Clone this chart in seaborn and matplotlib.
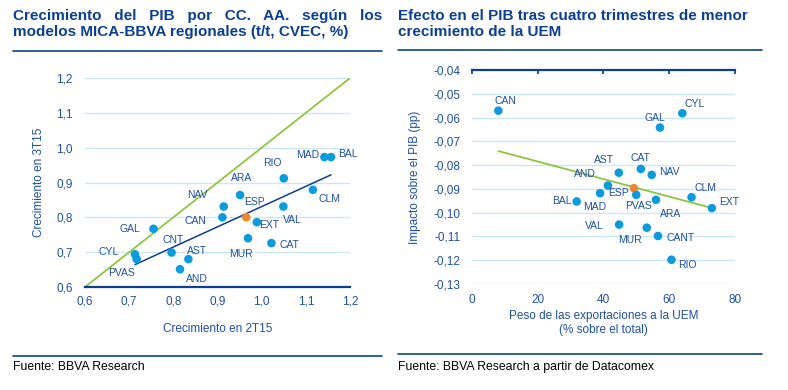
import numpy as np
import pandas as pd
import matplotlib
matplotlib.use("Agg")
import matplotlib.pyplot as plt
import seaborn as sns
from matplotlib.lines import Line2D

# --- data: left chart (growth 2T15 vs 3T15) ---
left_regions = ["GAL", "CYL", "PVAS", "CNT", "AST", "AND", "CAN", "NAV", "ARA", "ESP",
                "EXT", "MUR", "CAT", "VAL", "RIO", "CLM", "MAD", "BAL"]
left_2t15 = [0.755, 0.713, 0.717, 0.796, 0.834, 0.815, 0.911, 0.914, 0.951, 0.965,
             0.989, 0.969, 1.022, 1.049, 1.050, 1.116, 1.142, 1.157]
left_3t15 = [0.767, 0.694, 0.680, 0.699, 0.680, 0.651, 0.800, 0.831, 0.864, 0.800,
             0.786, 0.740, 0.726, 0.831, 0.912, 0.879, 0.973, 0.973]

# --- data: right chart (exports share to EMU vs GDP impact) ---
right_regions = ["CAN", "BAL", "CYL", "GAL", "AST", "CAT", "NAV", "AND", "ESP", "MAD",
                 "PVAS", "ARA", "CLM", "EXT", "VAL", "MUR", "CANT", "RIO"]
right_share = [8.1, 31.9, 64.0, 57.2, 44.7, 51.4, 54.7, 41.4, 49.3, 39.0,
               50.0, 56.0, 66.8, 73.0, 44.8, 53.2, 56.6, 60.7]
right_impact = [-0.0571, -0.0953, -0.0582, -0.0642, -0.0832, -0.0816, -0.0841, -0.0886,
                -0.0897, -0.0918, -0.0925, -0.0946, -0.0935, -0.0981, -0.1050, -0.1063,
                -0.1098, -0.1198]

left_ticks = [0.6, 0.7, 0.8, 0.9, 1.0, 1.1, 1.2]
right_yticks = [-0.13, -0.12, -0.11, -0.10, -0.09, -0.08, -0.07, -0.06, -0.05, -0.04]
right_xticks = [0, 20, 40, 60, 80]

# label offsets in pixels (dx, dy)
left_offsets = {"GAL": (-24, 0), "CYL": (-26, 2), "PVAS": (-15, -14), "CNT": (2, 13),
                "AST": (9, 8), "AND": (17, -10), "CAN": (-27, -4), "NAV": (-26, 12),
                "ARA": (2, 17), "ESP": (8, 15), "EXT": (12, -3), "MUR": (-7, -16),
                "CAT": (18, -2), "VAL": (9, -13), "RIO": (-11, 15), "CLM": (17, -9),
                "MAD": (-17, 2), "BAL": (17, 3)}
right_offsets = {"CAN": (7, 10), "BAL": (-15, 0), "CYL": (12, 9), "GAL": (-5, 10),
                 "AST": (-15, 13), "CAT": (0, 11), "NAV": (18, 3), "AND": (-23, 12),
                 "ESP": (-15, -5), "MAD": (-5, -14), "PVAS": (2, -11), "ARA": (15, -14),
                 "CLM": (14, 9), "EXT": (17, 6), "VAL": (-25, -1), "MUR": (-17, -12),
                 "CANT": (23, -2), "RIO": (16, -5)}

dot_blue = "#0A9BDD"
dot_orange = "#F08A2C"
navy = "#0B3F91"
text_blue = "#1F4FA0"
grid_blue = "#CBE8F6"
green = "#8DC63F"

sns.set_theme(style="white")
plt.rcParams["font.family"] = ["Liberation Sans Narrow", "Liberation Sans", "DejaVu Sans"]

left_df = pd.DataFrame({"region": left_regions, "x": left_2t15, "y": left_3t15})
right_df = pd.DataFrame({"region": right_regions, "x": right_share, "y": right_impact})
for df in (left_df, right_df):
    df["kind"] = np.where(df["region"] == "ESP", "esp", "cc")

fig = plt.figure(figsize=(7.88, 3.90), dpi=100)
ax1 = fig.add_axes([0.1079, 0.2641, 0.3363, 0.5359])
ax2 = fig.add_axes([0.5986, 0.2718, 0.3341, 0.5487])

palette = {"cc": dot_blue, "esp": dot_orange}


def style_axis(ax):
    for s in ax.spines.values():
        s.set_visible(False)
    ax.tick_params(axis="both", colors=text_blue, labelsize=8.5, length=0, pad=4)
    ax.set_facecolor("white")


# ---------- left chart ----------
ax = ax1
style_axis(ax)
ax.set_xlim(0.6, 1.2)
ax.set_ylim(0.6, 1.2)
for t in left_ticks[1:]:
    ax.axhline(t, color=grid_blue, lw=1.0, zorder=0)
ax.axline((0.6, 0.6), slope=1, color=green, lw=1.3, zorder=1)
sns.regplot(data=left_df[left_df["kind"] == "cc"], x="x", y="y", ax=ax, scatter=False,
            ci=None, color=navy, line_kws={"lw": 1.1, "zorder": 2})
sns.scatterplot(data=left_df, x="x", y="y", hue="kind", palette=palette, ax=ax,
                s=38, edgecolor="none", legend=False, zorder=3)
ax.spines["bottom"].set_visible(True)
ax.spines["bottom"].set_color(navy)
ax.spines["bottom"].set_linewidth(1.6)
ax.set_xticks(left_ticks)
ax.set_yticks(left_ticks)
ax.set_xticklabels([f"{v:.1f}".replace(".", ",") for v in left_ticks])
ax.set_yticklabels([f"{v:.1f}".replace(".", ",") for v in left_ticks])
ax.tick_params(axis="x", direction="in", length=3, color=navy, pad=6)
ax.tick_params(axis="y", pad=9)
ax.set_xlabel("Crecimiento en 2T15", color=text_blue, fontsize=8.5, labelpad=11)
ax.set_ylabel("Crecimiento en 3T15", color=text_blue, fontsize=8.5, labelpad=8)
for r, x, y in zip(left_regions, left_2t15, left_3t15):
    ax.annotate(r, (x, y), xytext=left_offsets[r], textcoords="offset pixels",
                ha="center", va="center", fontsize=7.5, color=text_blue)

# ---------- right chart ----------
ax = ax2
style_axis(ax)
ax.set_xlim(0, 80)
ax.set_ylim(-0.13, -0.04)
for t in right_yticks[:-1]:
    ax.axhline(t, color=grid_blue, lw=1.0, zorder=0)
sns.regplot(data=right_df[right_df["kind"] == "cc"], x="x", y="y", ax=ax, scatter=False,
            ci=None, color=green, line_kws={"lw": 1.3, "zorder": 2})
sns.scatterplot(data=right_df, x="x", y="y", hue="kind", palette=palette, ax=ax,
                s=38, edgecolor="none", legend=False, zorder=3)
ax.spines["top"].set_visible(True)
ax.spines["top"].set_color(navy)
ax.spines["top"].set_linewidth(1.6)
ax.set_xticks(right_xticks)
ax.set_yticks(right_yticks)
ax.set_yticklabels([f"{v:.2f}".replace(".", ",") for v in right_yticks])
ax.tick_params(axis="x", top=True, bottom=False, labelbottom=True, direction="in",
               length=3, color=navy, pad=7)
ax.tick_params(axis="y", pad=8)
ax.set_xlabel("Peso de las exportaciones a la UEM\n(% sobre el total)", color=text_blue,
              fontsize=8.5, labelpad=3)
ax.set_ylabel("Impacto sobre el PIB (pp)", color=text_blue, fontsize=8.5, labelpad=9)
for r, x, y in zip(right_regions, right_share, right_impact):
    ax.annotate(r, (x, y), xytext=right_offsets[r], textcoords="offset pixels",
                ha="center", va="center", fontsize=7.5, color=text_blue)

# ---------- titles, rules and sources ----------
title_kw = dict(fontsize=11, fontweight="bold", color=navy, va="top", ha="left",
                linespacing=1.2)
fig.text(13 / 788, 1 - 9 / 390,
         "Crecimiento   del   PIB   por   CC.   AA.   según   los\nmodelos MICA-BBVA regionales (t/t, CVEC, %)",
         **title_kw)
fig.text(398 / 788, 1 - 9 / 390,
         "Efecto en el PIB tras cuatro trimestres de menor\ncrecimiento de la UEM", **title_kw)
for x0, x1, y in [(13, 382, 51), (398, 762, 50), (13, 382, 356), (398, 762, 354)]:
    fig.add_artist(Line2D([x0 / 788, x1 / 788], [1 - y / 390, 1 - y / 390],
                          color=navy, lw=1.2))
fig.text(13 / 788, 1 - 367 / 390, "Fuente: BBVA Research", fontsize=8.8, color="black",
         va="center", ha="left")
fig.text(398 / 788, 1 - 367 / 390, "Fuente: BBVA Research a partir de Datacomex",
         fontsize=8.8, color="black", va="center", ha="left")

fig.savefig("out.png", dpi=100, facecolor="white")
